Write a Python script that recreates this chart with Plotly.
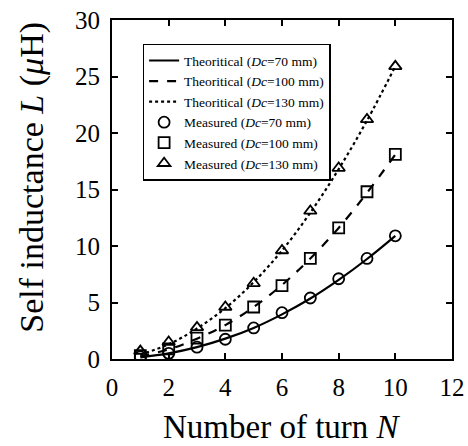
import plotly.graph_objects as go

turns = [1, 2, 3, 4, 5, 6, 7, 8, 9, 10]

meas_70 = [0.2, 0.5, 1.05, 1.75, 2.75, 4.1, 5.4, 7.1, 8.9, 10.9]
meas_100 = [0.3, 0.9, 1.85, 3.0, 4.6, 6.5, 8.9, 11.6, 14.8, 18.1]
meas_130 = [0.7, 1.5, 2.8, 4.6, 6.7, 9.6, 13.1, 16.9, 21.2, 25.9]

theo_70 = [0.15, 0.5, 1.05, 1.8, 2.75, 3.95, 5.35, 7.0, 8.85, 10.9]
theo_100 = [0.25, 0.85, 1.8, 3.0, 4.6, 6.55, 8.9, 11.6, 14.7, 18.1]
theo_130 = [0.4, 1.3, 2.7, 4.5, 6.8, 9.6, 12.95, 16.8, 21.1, 25.9]

x_ticks = [0, 2, 4, 6, 8, 10, 12]
y_ticks = [0, 5, 10, 15, 20, 25, 30]

FONT = "Liberation Serif"

fig = go.Figure()

line_specs = [
    ("Theoritical (<i>Dc</i>=70 mm)", theo_70, "solid"),
    ("Theoritical (<i>Dc</i>=100 mm)", theo_100, "dash"),
    ("Theoritical (<i>Dc</i>=130 mm)", theo_130, "dot"),
]
for name, vals, dash in line_specs:
    fig.add_trace(go.Scatter(
        x=turns, y=vals, mode="lines", name=name,
        line=dict(color="black", width=2.2, dash=dash, shape="spline"),
    ))

marker_specs = [
    ("Measured (<i>Dc</i>=70 mm)", meas_70, "circle-open"),
    ("Measured (<i>Dc</i>=100 mm)", meas_100, "square-open"),
    ("Measured (<i>Dc</i>=130 mm)", meas_130, "triangle-up-open"),
]
for name, vals, sym in marker_specs:
    fig.add_trace(go.Scatter(
        x=turns, y=vals, mode="markers", name=name,
        marker=dict(symbol=sym, size=11, color="black", line=dict(width=1.8, color="black")),
    ))

axis_common = dict(
    showline=True, linecolor="black", linewidth=2, mirror="ticks",
    ticks="inside", ticklen=6, tickwidth=1.5, tickcolor="black",
    showgrid=False, zeroline=False, automargin=False,
    ticklabelstandoff=5,
    tickfont=dict(family=FONT, size=25, color="black"),
)

fig.update_xaxes(range=[0, 12], tickvals=x_ticks, **axis_common)
fig.update_yaxes(range=[0, 30], tickvals=y_ticks, **axis_common)

fig.add_annotation(
    text="Number of turn <i>N</i>", xref="paper", yref="paper",
    x=0.5, y=-0.2, xanchor="center", yanchor="middle", showarrow=False,
    font=dict(family=FONT, size=33, color="black"),
)
fig.add_annotation(
    text="Self inductance <i>L</i> (<i>μ</i>H)", xref="paper", yref="paper",
    x=-0.236, y=0.537, xanchor="center", yanchor="middle", showarrow=False,
    textangle=-90, font=dict(family=FONT, size=34, color="black"),
)

fig.update_layout(
    width=468, height=446,
    margin=dict(l=112, r=16, t=20, b=87),
    plot_bgcolor="white", paper_bgcolor="white",
    font=dict(family=FONT, color="black"),
    legend=dict(
        x=0.09, y=0.93, xanchor="left", yanchor="top",
        bgcolor="white", bordercolor="black", borderwidth=1.5,
        font=dict(family=FONT, size=13.5, color="black"),
        tracegroupgap=0, itemwidth=30,
    ),
)

fig.write_html(
    "out.html",
    config={"displayModeBar": False},
    post_script="document.body.style.margin='0';document.body.style.padding='0';",
)
